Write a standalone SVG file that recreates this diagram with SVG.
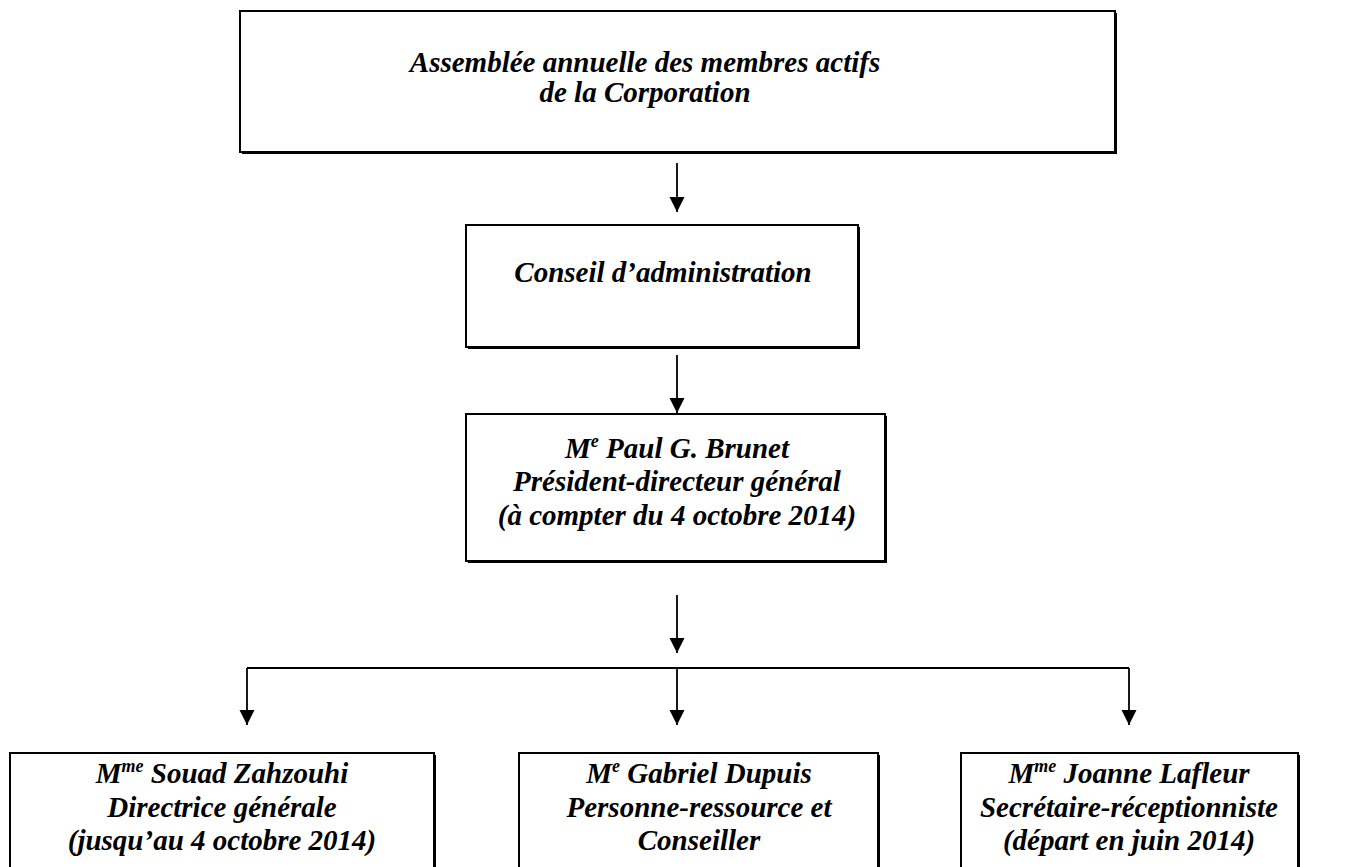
<svg xmlns="http://www.w3.org/2000/svg" width="1346" height="867" viewBox="0 0 1346 867">
<style>
.box{fill:#fff;stroke:#000;stroke-width:2}
.sh{fill:#000}
.t{font-family:"Liberation Serif","Times New Roman",serif;font-weight:bold;font-style:italic;font-size:29px;fill:#000;text-anchor:middle}
.sup{font-size:18px}
.ln{stroke:#000;stroke-width:1.8;fill:none}
</style>
<defs>
<marker id="ah" markerWidth="15" markerHeight="16" refX="15" refY="7.5" orient="auto" markerUnits="userSpaceOnUse">
<path d="M0,0 L15,7.5 L0,15 Z" fill="#000"/>
</marker>
</defs>
<rect width="1346" height="867" fill="#fff"/>
<g id="connectors">
<line class="ln" x1="677" y1="163" x2="677" y2="212" marker-end="url(#ah)"/>
<line class="ln" x1="677" y1="355" x2="677" y2="413" marker-end="url(#ah)"/>
<line class="ln" x1="677" y1="595" x2="677" y2="653" marker-end="url(#ah)"/>
<line class="ln" x1="247" y1="668" x2="1129" y2="668"/>
<line class="ln" x1="247" y1="668" x2="247" y2="725" marker-end="url(#ah)"/>
<line class="ln" x1="677" y1="668" x2="677" y2="725" marker-end="url(#ah)"/>
<line class="ln" x1="1129" y1="668" x2="1129" y2="725" marker-end="url(#ah)"/>
</g>
<g id="assemblee">
<rect class="sh" x="242" y="13" width="875" height="141"/>
<rect class="box" x="240" y="11" width="875" height="141"/>
<text class="t" x="645" y="72">Assemblée annuelle des membres actifs</text>
<text class="t" x="645" y="102">de la Corporation</text>
</g>
<g id="conseil">
<rect class="sh" x="468" y="227" width="392" height="122"/>
<rect class="box" x="466" y="225" width="392" height="122"/>
<text class="t" x="663" y="282">Conseil d’administration</text>
</g>
<g id="brunet">
<rect class="sh" x="468" y="416" width="419" height="147"/>
<rect class="box" x="466" y="414" width="419" height="147"/>
<text class="t" x="677" y="458">M<tspan class="sup" dy="-11">e</tspan><tspan dy="11"> Paul G. Brunet</tspan></text>
<text class="t" x="677" y="491">Président-directeur général</text>
<text class="t" x="677" y="525">(à compter du 4 octobre 2014)</text>
</g>
<g id="zahzouhi">
<rect class="sh" x="12" y="755" width="424" height="130"/>
<rect class="box" x="10" y="753" width="424" height="130"/>
<text class="t" x="222" y="783">M<tspan class="sup" dy="-11">me</tspan><tspan dy="11"> Souad Zahzouhi</tspan></text>
<text class="t" x="222" y="817">Directrice générale</text>
<text class="t" x="222" y="850">(jusqu’au 4 octobre 2014)</text>
</g>
<g id="dupuis">
<rect class="sh" x="521" y="755" width="359" height="130"/>
<rect class="box" x="519" y="753" width="359" height="130"/>
<text class="t" x="699" y="783">M<tspan class="sup" dy="-11">e</tspan><tspan dy="11"> Gabriel Dupuis</tspan></text>
<text class="t" x="699" y="817">Personne-ressource et</text>
<text class="t" x="699" y="850">Conseiller</text>
</g>
<g id="lafleur">
<rect class="sh" x="963" y="755" width="337" height="130"/>
<rect class="box" x="961" y="753" width="337" height="130"/>
<text class="t" x="1129" y="783">M<tspan class="sup" dy="-11">me</tspan><tspan dy="11"> Joanne Lafleur</tspan></text>
<text class="t" x="1129" y="817">Secrétaire-réceptionniste</text>
<text class="t" x="1129" y="850">(départ en juin 2014)</text>
</g>
</svg>
